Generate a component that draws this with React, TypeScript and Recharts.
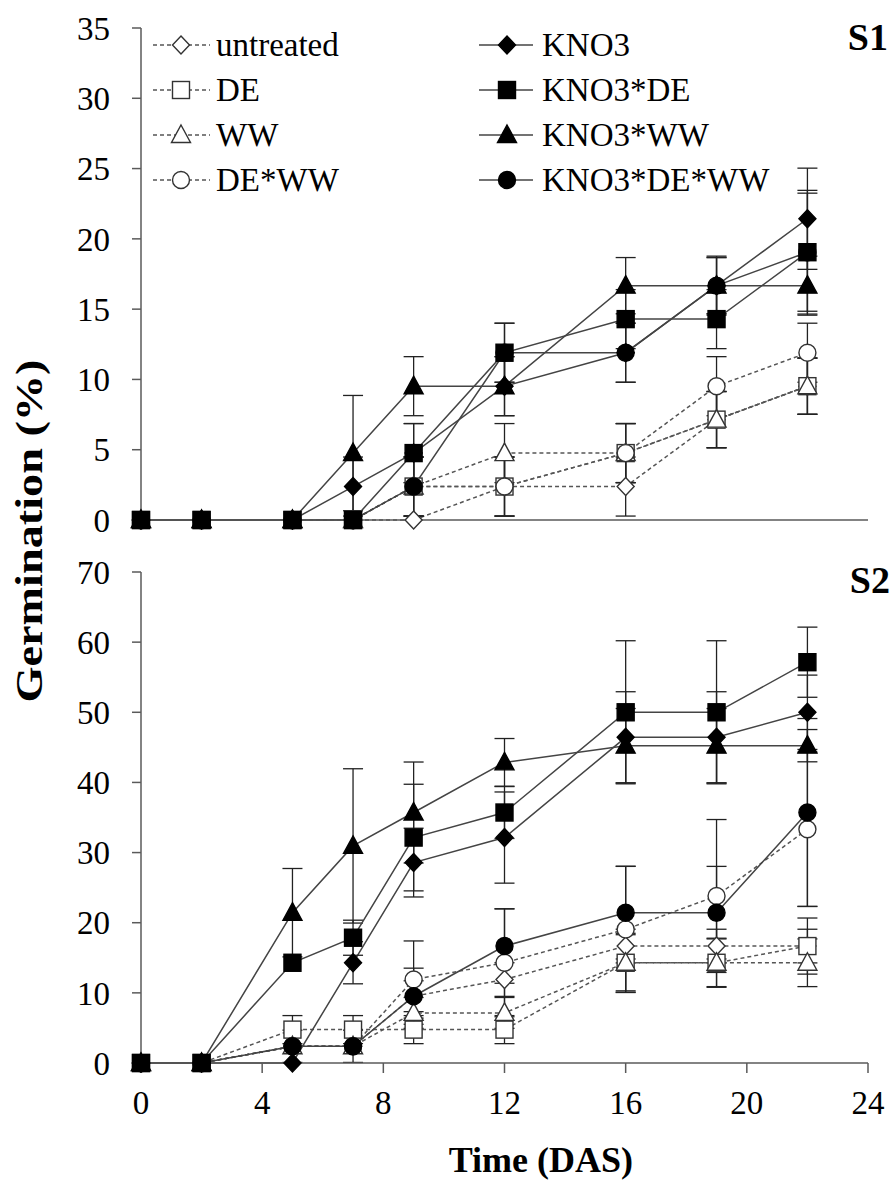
import React from "react";
import { LineChart, Line, XAxis, YAxis, ErrorBar } from "recharts";

const days = [0, 2, 5, 7, 9, 12, 16, 19, 22];
const xTicks = [0, 4, 8, 12, 16, 20, 24];
const s1Ticks = [0, 5, 10, 15, 20, 25, 30, 35];
const s2Ticks = [0, 10, 20, 30, 40, 50, 60, 70];

// S1 germination (%)
const s1Untreated = [0, 0, 0, 0, 0, 2.38, 2.38, 7.14, 9.52];
const s1DE = [0, 0, 0, 0, 2.38, 2.38, 4.76, 7.14, 9.52];
const s1WW = [0, 0, 0, 0, 2.38, 4.76, 4.76, 7.14, 9.52];
const s1DEWW = [0, 0, 0, 0, 2.38, 2.38, 4.76, 9.52, 11.9];
const s1KNO3 = [0, 0, 0, 2.38, 4.76, 9.52, 11.9, 16.67, 21.43];
const s1KNO3DE = [0, 0, 0, 0, 4.76, 11.9, 14.29, 14.29, 19.05];
const s1KNO3WW = [0, 0, 0, 4.76, 9.52, 9.52, 16.67, 16.67, 16.67];
const s1KNO3DEWW = [0, 0, 0, 0, 2.38, 11.9, 11.9, 16.67, 19.05];

// S1 error (+/-)
const s1UntreatedErr = [0, 0, 0, 0, 0, 2.1, 2.1, 2.0, 2.0];
const s1DEErr = [0, 0, 0, 0, 2.1, 2.1, 2.1, 2.0, 2.0];
const s1WWErr = [0, 0, 0, 0, 2.1, 2.1, 2.1, 2.0, 2.0];
const s1DEWWErr = [0, 0, 0, 0, 2.1, 2.1, 2.1, 2.1, 2.1];
const s1KNO3Err = [0, 0, 0, 2.1, 2.1, 2.1, 2.1, 2.1, 3.6];
const s1KNO3DEErr = [0, 0, 0, 0, 2.1, 2.1, 2.1, 2.1, 4.2];
const s1KNO3WWErr = [0, 0, 0, 4.1, 2.1, 2.1, 2.0, 2.0, 2.1];
const s1KNO3DEWWErr = [0, 0, 0, 0, 2.1, 2.1, 2.1, 2.0, 4.4];

// S2 germination (%)
const s2Untreated = [0, 0, 2.38, 2.38, 9.52, 11.9, 16.67, 16.67, 16.67];
const s2DE = [0, 0, 4.76, 4.76, 4.76, 4.76, 14.29, 14.29, 16.67];
const s2WW = [0, 0, 2.38, 2.38, 7.14, 7.14, 14.29, 14.29, 14.29];
const s2DEWW = [0, 0, 2.38, 2.38, 11.9, 14.29, 19.05, 23.81, 33.33];
const s2KNO3 = [0, 0, 0, 14.29, 28.57, 32.14, 46.43, 46.43, 50];
const s2KNO3DE = [0, 0, 14.29, 17.86, 32.14, 35.71, 50, 50, 57.14];
const s2KNO3WW = [0, 0, 21.43, 30.95, 35.71, 42.86, 45.24, 45.24, 45.24];
const s2KNO3DEWW = [0, 0, 2.38, 2.38, 9.52, 16.67, 21.43, 21.43, 35.71];

// S2 error (+/-)
const s2UntreatedErr = [0, 0, 0, 0, 2.2, 2.4, 2.4, 2.4, 2.4];
const s2DEErr = [0, 0, 2.0, 2.0, 2.0, 2.0, 4.2, 3.5, 4.0];
const s2WWErr = [0, 0, 0, 0, 2.2, 2.2, 4.0, 3.4, 3.4];
const s2DEWWErr = [0, 0, 0, 0, 5.5, 7.7, 9.0, 10.9, 11.0];
const s2KNO3Err = [0, 0, 0, 3.0, 4.9, 6.5, 6.5, 6.5, 5.3];
const s2KNO3DEErr = [0, 0, 0, 2.5, 7.6, 3.7, 10.2, 10.2, 5.0];
const s2KNO3WWErr = [0, 0, 6.3, 11.0, 7.2, 3.4, 5.3, 5.3, 2.3];
const s2KNO3DEWWErr = [0, 0, 2.3, 2.3, 4.0, 5.3, 6.6, 6.6, 13.4];

type Shape = "diamond" | "square" | "triangle" | "circle";

const SERIES: { key: string; name: string; shape: Shape; filled: boolean }[] = [
  { key: "untreated", name: "untreated", shape: "diamond", filled: false },
  { key: "de", name: "DE", shape: "square", filled: false },
  { key: "ww", name: "WW", shape: "triangle", filled: false },
  { key: "deww", name: "DE*WW", shape: "circle", filled: false },
  { key: "kno3", name: "KNO3", shape: "diamond", filled: true },
  { key: "kno3de", name: "KNO3*DE", shape: "square", filled: true },
  { key: "kno3ww", name: "KNO3*WW", shape: "triangle", filled: true },
  { key: "kno3deww", name: "KNO3*DE*WW", shape: "circle", filled: true },
];

// painting order (last on top)
const DRAW_ORDER = ["untreated", "de", "ww", "deww", "kno3", "kno3ww", "kno3deww", "kno3de"];

const buildRows = (vals: Record<string, number[]>, errs: Record<string, number[]>) =>
  days.map((d, i) => {
    const row: Record<string, number> = { day: d };
    Object.keys(vals).forEach((k) => {
      row[k] = vals[k][i];
      row[k + "Err"] = errs[k][i];
    });
    return row;
  });

const s1Rows = buildRows(
  { untreated: s1Untreated, de: s1DE, ww: s1WW, deww: s1DEWW, kno3: s1KNO3, kno3de: s1KNO3DE, kno3ww: s1KNO3WW, kno3deww: s1KNO3DEWW },
  { untreated: s1UntreatedErr, de: s1DEErr, ww: s1WWErr, deww: s1DEWWErr, kno3: s1KNO3Err, kno3de: s1KNO3DEErr, kno3ww: s1KNO3WWErr, kno3deww: s1KNO3DEWWErr }
);

const s2Rows = buildRows(
  { untreated: s2Untreated, de: s2DE, ww: s2WW, deww: s2DEWW, kno3: s2KNO3, kno3de: s2KNO3DE, kno3ww: s2KNO3WW, kno3deww: s2KNO3DEWW },
  { untreated: s2UntreatedErr, de: s2DEErr, ww: s2WWErr, deww: s2DEWWErr, kno3: s2KNO3Err, kno3de: s2KNO3DEErr, kno3ww: s2KNO3WWErr, kno3deww: s2KNO3DEWWErr }
);

const FONT = "Liberation Serif, Times New Roman, Times, DejaVu Serif, serif";
const AXIS = "#5a5a5a";
const txt = { fontFamily: FONT };

const Marker = ({ cx, cy, shape, filled }: { cx: number; cy: number; shape: Shape; filled: boolean }) => {
  if (cx == null || cy == null) return null;
  const fill = filled ? "#000" : "#fff";
  const stroke = filled ? "#000" : "#333";
  const sw = 1.4;
  if (shape === "diamond")
    return <polygon points={`${cx},${cy - 9} ${cx + 8.5},${cy} ${cx},${cy + 9} ${cx - 8.5},${cy}`} fill={fill} stroke={stroke} strokeWidth={sw} />;
  if (shape === "square")
    return <rect x={cx - 8.5} y={cy - 8.5} width={17} height={17} fill={fill} stroke={stroke} strokeWidth={sw} />;
  if (shape === "triangle")
    return <polygon points={`${cx},${cy - 10} ${cx + 9.5},${cy + 7.5} ${cx - 9.5},${cy + 7.5}`} fill={fill} stroke={stroke} strokeWidth={sw} />;
  return <circle cx={cx} cy={cy} r={8.5} fill={fill} stroke={stroke} strokeWidth={sw} />;
};

const Panel = ({
  rows, yMax, yTicks, height, top, xAxisHeight, showXLabels,
}: {
  rows: Record<string, number>[]; yMax: number; yTicks: number[]; height: number; top: number; xAxisHeight: number; showXLabels: boolean;
}) => (
  <LineChart width={893} height={height} data={rows} margin={{ top, right: 25, bottom: 0, left: 0 }} style={txt}>
    <XAxis
      dataKey="day"
      type="number"
      domain={[0, 24]}
      ticks={xTicks}
      height={xAxisHeight}
      stroke={AXIS}
      strokeWidth={1.5}
      tickSize={10}
      tickMargin={18}
      tick={showXLabels ? { fontSize: 33, fill: "#000", style: txt } : false}
    />
    <YAxis
      type="number"
      domain={[0, yMax]}
      ticks={yTicks}
      width={141}
      stroke={AXIS}
      strokeWidth={1.5}
      tickSize={9}
      tickMargin={22}
      tick={{ fontSize: 33, fill: "#000", style: txt }}
    />
    {DRAW_ORDER.map((k) => {
      const s = SERIES.find((x) => x.key === k)!;
      return (
        <Line
          key={k}
          type="linear"
          dataKey={k}
          name={s.name}
          stroke={s.filled ? "#444" : "#555"}
          strokeWidth={1.5}
          strokeDasharray={s.filled ? undefined : "4 3"}
          isAnimationActive={false}
          activeDot={false}
          dot={(p: any) => <Marker key={`${k}-${p.index}`} cx={p.cx} cy={p.cy} shape={s.shape} filled={s.filled} />}
        >
          <ErrorBar dataKey={k + "Err"} width={10} stroke="#222" strokeWidth={1.3} direction="y" />
        </Line>
      );
    })}
  </LineChart>
);

const LegendOverlay = () => {
  const rowsY = [45, 90, 135, 180];
  const open = SERIES.filter((s) => !s.filled);
  const filled = SERIES.filter((s) => s.filled);
  return (
    <g>
      {open.map((s, i) => (
        <g key={s.key}>
          <line x1={153} x2={210} y1={rowsY[i]} y2={rowsY[i]} stroke="#555" strokeWidth={1.5} strokeDasharray="4 3" />
          <Marker cx={181} cy={rowsY[i]} shape={s.shape} filled={false} />
          <text x={216} y={rowsY[i] + 11} fontSize={33} style={txt} fill="#000">{s.name}</text>
        </g>
      ))}
      {filled.map((s, i) => (
        <g key={s.key}>
          <line x1={479} x2={533} y1={rowsY[i]} y2={rowsY[i]} stroke="#444" strokeWidth={1.5} />
          <Marker cx={507} cy={rowsY[i]} shape={s.shape} filled />
          <text x={542} y={rowsY[i] + 11} fontSize={33} style={txt} fill="#000">{s.name}</text>
        </g>
      ))}
    </g>
  );
};

export default function App() {
  return (
    <div style={{ position: "absolute", left: 0, top: 0, width: 893, height: 1181, background: "#fff", fontFamily: FONT }}>
      <div style={{ position: "absolute", left: 0, top: 0 }}>
        <Panel rows={s1Rows} yMax={35} yTicks={s1Ticks} height={545} top={28} xAxisHeight={25} showXLabels={false} />
      </div>
      <div style={{ position: "absolute", left: 0, top: 545 }}>
        <Panel rows={s2Rows} yMax={70} yTicks={s2Ticks} height={636} top={27} xAxisHeight={118} showXLabels />
      </div>
      <svg width={893} height={1181} style={{ position: "absolute", left: 0, top: 0, pointerEvents: "none", fontFamily: FONT }}>
        <LegendOverlay />
        <text x={888} y={50} textAnchor="end" fontSize={38} fontWeight="bold" style={txt}>S1</text>
        <text x={890} y={593} textAnchor="end" fontSize={38} fontWeight="bold" style={txt}>S2</text>
        <text x={633} y={1172} textAnchor="end" fontSize={36} fontWeight="bold" style={txt}>Time (DAS)</text>
        <text
          transform="translate(42, 531) rotate(-90)"
          textAnchor="middle"
          fontSize={38}
          fontWeight="bold"
          style={txt}
          textLength={343}
          lengthAdjust="spacingAndGlyphs"
        >
          Germination (%)
        </text>
      </svg>
    </div>
  );
}
